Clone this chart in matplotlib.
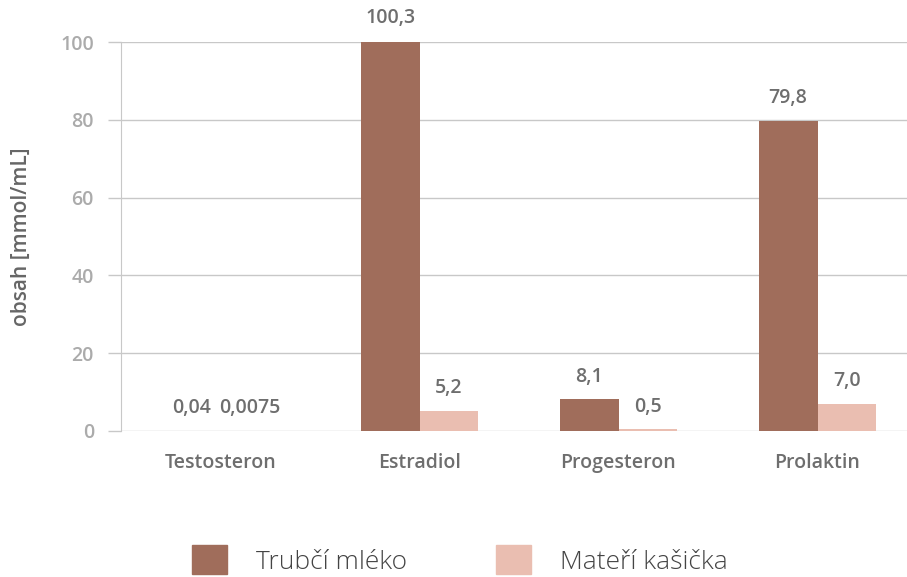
import numpy as np
import matplotlib.pyplot as plt
from matplotlib.patches import Patch

categories = ["Testosteron", "Estradiol", "Progesteron", "Prolaktin"]
series_names = ["Trubčí mléko", "Mateří kašička"]
trubci = [0.04, 100.3, 8.1, 79.8]
materi = [0.0075, 5.2, 0.5, 7.0]
trubci_labels = ["0,04", "100,3", "8,1", "79,8"]
materi_labels = ["0,0075", "5,2", "0,5", "7,0"]
yticks = [0, 20, 40, 60, 80, 100]

dark = "#A06D5B"
light = "#EABEB1"
grid_col = "#C8C8C8"

plt.rcParams["font.family"] = ["Open Sans", "DejaVu Sans"]

fig = plt.figure(figsize=(9.07, 5.77), dpi=100)
ax = fig.add_axes([121 / 907, 1 - 431 / 577, 796 / 907, 389 / 577])

x = np.arange(len(categories))
w = 0.295
b1 = ax.bar(x - w / 2, trubci, w, color=dark, zorder=3)
b2 = ax.bar(x + w / 2, materi, w, color=light, zorder=3)

for bars, labels in [(b1, trubci_labels), (b2, materi_labels)]:
    for bar, lab in zip(bars, labels):
        ax.annotate(lab, (bar.get_x() + bar.get_width() / 2, bar.get_height()),
                    xytext=(0, 9), textcoords="offset points",
                    ha="center", va="bottom", fontsize=14,
                    fontweight="semibold", color="#6E6E6E", annotation_clip=False)

ax.set_xlim(-0.5, 3.5)
ax.set_ylim(0, 100)
ax.set_yticks(yticks)
ax.set_xticks(x)
ax.set_xticklabels(categories, fontsize=14, fontweight="semibold", color="#6E6E6E")
ax.tick_params(axis="x", length=0, pad=16)
ax.tick_params(axis="y", length=9.5, width=1, color=grid_col, labelsize=14,
               labelcolor="#ABABAB", pad=10)
for t in ax.get_yticklabels():
    t.set_fontweight("semibold")

ax.grid(axis="y", color=grid_col, linewidth=1, zorder=0)
for s in ["top", "right", "bottom"]:
    ax.spines[s].set_visible(False)
ax.spines["left"].set_color(grid_col)
ax.set_axisbelow(True)

ax.set_ylabel("obsah [mmol/mL]", fontsize=15, fontweight="semibold",
              color="#666666", labelpad=20)

handles = [Patch(color=dark), Patch(color=light)]
fig.legend(handles, series_names, loc="center", bbox_to_anchor=(460 / 907, 1 - 560 / 577),
           ncol=2, frameon=False, handlelength=1.3, handleheight=1.3,
           handletextpad=1.1, columnspacing=3.4, prop={"size": 19, "weight": "light"},
           labelcolor="#444444")

fig.savefig("out.png", dpi=100)
